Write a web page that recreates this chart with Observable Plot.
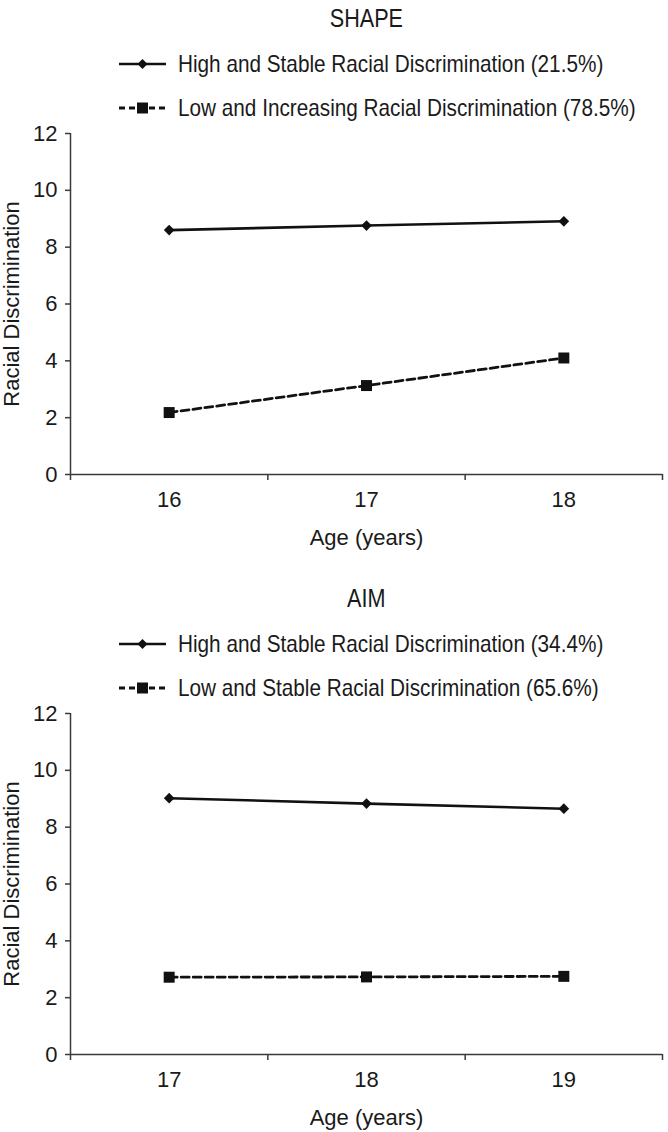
<!DOCTYPE html>
<html>
<head>
<meta charset="utf-8">
<script src="https://cdn.jsdelivr.net/npm/d3@7"></script>
<script src="https://cdn.jsdelivr.net/npm/@observablehq/plot@0.6"></script>
<style>
  html, body { margin: 0; padding: 0; background: #fff; }
  #root { position: relative; width: 668px; height: 1132px; overflow: hidden;
    font-family: "Liberation Sans", Arial, sans-serif; color: #1a1a1a; }
  .title { position: absolute; left: 70px; width: 592px; text-align: center; font-size: 25px; line-height: 30px; }
  .title span { display: inline-block; transform: scaleX(0.864); transform-origin: center center; }
  .leg { position: absolute; left: 119px; height: 30px; display: flex; align-items: center; font-size: 24px; white-space: nowrap; }
  .leg svg { margin-right: 12px; flex: none; }
  .leg span { display: inline-block; transform: scaleX(0.864); transform-origin: left center; }
  .plotwrap { position: absolute; left: 0; }
</style>
</head>
<body>
<div id="root"></div>
<script>
// ---- data ----
const panelTitles = ["SHAPE", "AIM"];
const agesShape = [16, 17, 18];
const shapeHigh = [8.6, 8.76, 8.91];
const shapeLow = [2.18, 3.13, 4.1];
const shapeLegend = ["High and Stable Racial Discrimination (21.5%)", "Low and Increasing Racial Discrimination (78.5%)"];
const agesAim = [17, 18, 19];
const aimHigh = [9.02, 8.83, 8.65];
const aimLow = [2.72, 2.73, 2.75];
const aimLegend = ["High and Stable Racial Discrimination (34.4%)", "Low and Stable Racial Discrimination (65.6%)"];
const yTicks = [0, 2, 4, 6, 8, 10, 12];
const yLabel = "Racial Discrimination";
const xLabel = "Age (years)";

const FONT = '"Liberation Sans", Arial, sans-serif';
const INK = "#111";
const AX = "#3a3a3a";

const root = document.getElementById("root");

function swatch(dashed, symbol) {
  const ns = "http://www.w3.org/2000/svg";
  const svg = document.createElementNS(ns, "svg");
  svg.setAttribute("width", 47); svg.setAttribute("height", 14);
  const line = document.createElementNS(ns, "line");
  line.setAttribute("x1", 0); line.setAttribute("x2", 47);
  line.setAttribute("y1", 7); line.setAttribute("y2", 7);
  line.setAttribute("stroke", INK);
  line.setAttribute("stroke-width", dashed ? 2.8 : 2.5);
  if (dashed) line.setAttribute("stroke-dasharray", "6,4");
  svg.appendChild(line);
  const p = document.createElementNS(ns, "path");
  if (symbol === "diamond") p.setAttribute("d", "M23.5,2L28.5,7L23.5,12L18.5,7Z");
  else p.setAttribute("d", "M18,1.5H29V12.5H18Z");
  p.setAttribute("fill", INK);
  svg.appendChild(p);
  return svg;
}

function panel(oy, title, ages, high, low, legend) {
  const t = document.createElement("div");
  t.className = "title"; t.style.top = (oy + 3) + "px";
  const ts = document.createElement("span"); ts.textContent = title; t.appendChild(ts);
  root.appendChild(t);
  [[legend[0], false, "diamond", 49], [legend[1], true, "square", 93]].forEach(([txt, dashed, sym, top]) => {
    const d = document.createElement("div");
    d.className = "leg"; d.style.top = (oy + top) + "px";
    d.appendChild(swatch(dashed, sym));
    const s = document.createElement("span"); s.textContent = txt; d.appendChild(s);
    root.appendChild(d);
  });

  const hi = ages.map((a, i) => ({age: a, v: high[i]}));
  const lo = ages.map((a, i) => ({age: a, v: low[i]}));
  const lo0 = ages[0] - 0.5, hi0 = ages[ages.length - 1] + 0.5;
  const edges = d3.range(lo0, hi0 + 0.01, 1);

  const chart = Plot.plot({
    width: 668, height: 440,
    marginLeft: 70, marginRight: 6, marginTop: 23, marginBottom: 76,
    style: {fontFamily: FONT, fontSize: "22px", color: "#1a1a1a", background: "transparent", overflow: "visible"},
    x: {type: "linear", domain: [lo0, hi0]},
    y: {domain: [0, 12]},
    marks: [
      Plot.ruleY([0], {stroke: AX, strokeWidth: 1.5}),
      Plot.ruleX([lo0], {y1: 0, y2: 12, stroke: AX, strokeWidth: 1.5}),
      Plot.axisY({ticks: yTicks, tickSize: 5, tickPadding: 8, stroke: AX, strokeWidth: 1.5,
        label: yLabel, labelAnchor: "center", labelOffset: 67, labelArrow: false}),
      Plot.axisX({ticks: edges, tickSize: 6, tickFormat: () => "", stroke: AX, strokeWidth: 1.5, label: null}),
      Plot.axisX({ticks: ages, tickSize: 0, tickPadding: 17, tickFormat: d => String(d),
        label: xLabel, labelAnchor: "center", labelOffset: 70, labelArrow: false}),
      Plot.line(hi, {x: "age", y: "v", stroke: INK, strokeWidth: 2.6}),
      Plot.line(lo, {x: "age", y: "v", stroke: INK, strokeWidth: 2.8, strokeDasharray: "8,4"}),
      Plot.dot(hi, {x: "age", y: "v", symbol: "diamond2", r: 4.8, fill: INK, stroke: "none"}),
      Plot.dot(lo, {x: "age", y: "v", symbol: "square", r: 6.2, fill: INK, stroke: "none"})
    ]
  });
  const w = document.createElement("div");
  w.className = "plotwrap"; w.style.top = (oy + 110) + "px";
  w.appendChild(chart);
  root.appendChild(w);
}

panel(0, panelTitles[0], agesShape, shapeHigh, shapeLow, shapeLegend);
panel(580, panelTitles[1], agesAim, aimHigh, aimLow, aimLegend);
</script>
</body>
</html>
